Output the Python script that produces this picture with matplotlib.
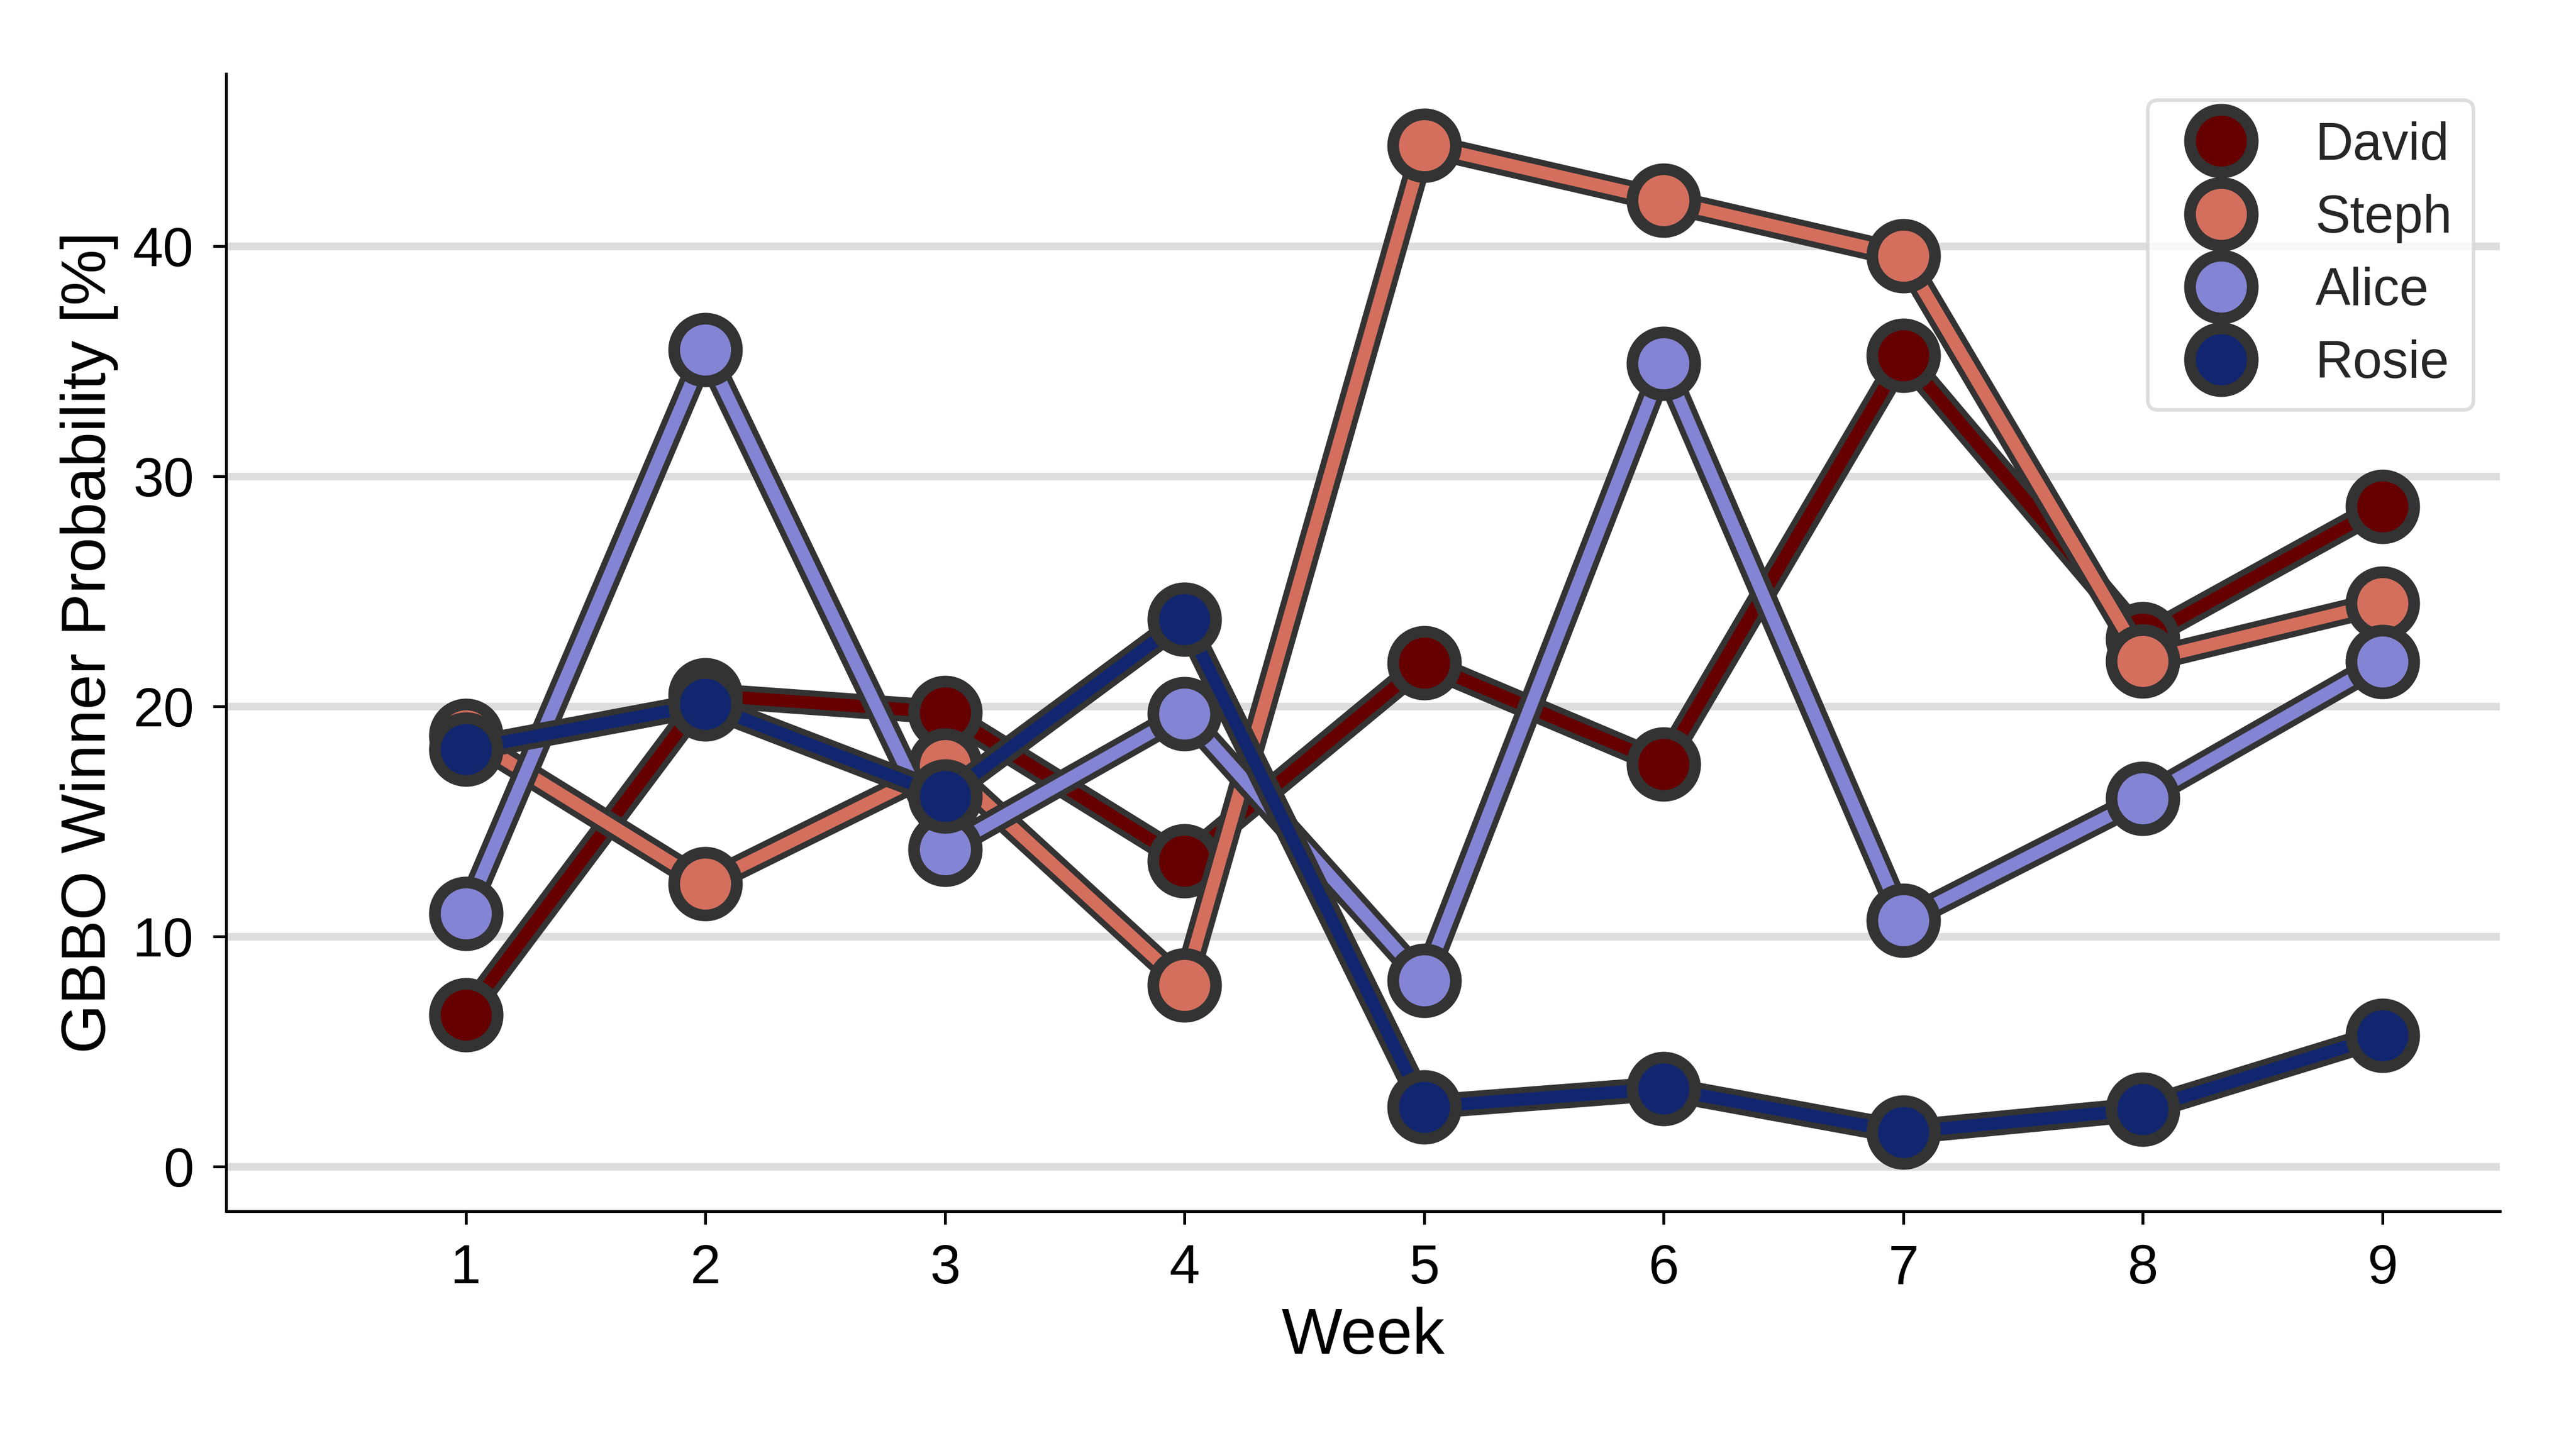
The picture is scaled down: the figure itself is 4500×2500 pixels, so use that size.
import matplotlib
matplotlib.use('Agg')
import matplotlib.pyplot as plt
import matplotlib.patheffects as pe
from matplotlib.lines import Line2D

# DATA
weeks = [1, 2, 3, 4, 5, 6, 7, 8, 9]
names = ['David', 'Steph', 'Alice', 'Rosie']
david = [6.6, 20.5, 19.75, 13.3, 21.9, 17.5, 35.25, 22.95, 28.7]
steph = [18.75, 12.3, 17.45, 7.9, 44.4, 42.0, 39.6, 21.98, 24.5]
alice = [11.0, 35.5, 13.8, 19.7, 8.1, 34.9, 10.7, 16.0, 21.95]
rosie = [18.15, 20.1, 16.1, 23.8, 2.6, 3.4, 1.5, 2.5, 5.7]
series = [david, steph, alice, rosie]
colors = ['#660000', '#d46f5e', '#8484d4', '#11266f']
yticks = [0, 10, 20, 30, 40]

EDGE = '#333333'
plt.rcParams['font.family'] = ['Liberation Sans', 'DejaVu Sans']

fig = plt.figure(figsize=(15, 25 / 3), dpi=300)
ax = fig.add_axes([0.0878, 0.1536, 0.8826, 0.7948])

# each contestant: outlined line, then markers on top
for vals, col in zip(series, colors):
    ax.plot(weeks, vals, color=col, lw=5.3, solid_capstyle='round',
            path_effects=[pe.Stroke(linewidth=10.3, foreground=EDGE), pe.Normal()])
    ax.plot(weeks, vals, linestyle='none', marker='o', ms=26.3,
            mfc=col, mec=EDGE, mew=4.9)

ax.set_xlim(0, 9.49)
ax.set_ylim(-1.93, 47.5)
ax.set_xticks(weeks)
ax.set_yticks(yticks)
ax.yaxis.grid(True, color='#dddddd', lw=3.2)
ax.set_axisbelow(True)

for s in ['top', 'right']:
    ax.spines[s].set_visible(False)
for s in ['left', 'bottom']:
    ax.spines[s].set_linewidth(1.2)
    ax.spines[s].set_color('black')
ax.tick_params(direction='out', length=5.5, width=1.2, labelsize=23, pad=8)

ax.set_xlabel('Week', fontsize=27, labelpad=5)
ax.set_ylabel('GBBO Winner Probability [%]', fontsize=26.5, labelpad=6)

handles = [Line2D([], [], linestyle='none', marker='o', ms=26.3, mfc=c,
                  mec=EDGE, mew=4.9) for c in colors]
leg = ax.legend(handles, names, loc='upper right', fontsize=22,
                labelspacing=0.45, handlelength=2.0, handletextpad=0.8,
                borderpad=0.4, borderaxespad=0.5, frameon=True)
leg.get_frame().set_edgecolor('#d5d5d5')
leg.get_frame().set_linewidth(1.5)
for t in leg.get_texts():
    t.set_color('#262626')

fig.savefig('out.png', dpi=300)
